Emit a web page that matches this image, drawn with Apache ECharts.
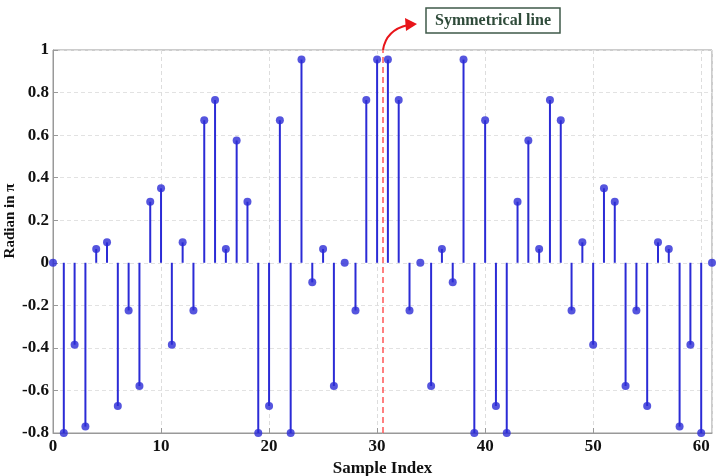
<!DOCTYPE html>
<html>
<head>
<meta charset="utf-8">
<script src="https://cdn.jsdelivr.net/npm/echarts@6/dist/echarts.min.js"></script>
<style>
  html, body { margin: 0; padding: 0; background: #fff; }
  #main { width: 718px; height: 476px; }
</style>
</head>
<body>
<div id="main"></div>
<script>
// sample index 0..61 and the phase values (radian in pi)
var sampleIndex = [];
for (var i = 0; i <= 61; i++) sampleIndex.push(i);

var radianValues = [
  0, -0.8, -0.385, -0.77, 0.065, 0.096, -0.673, -0.224, -0.579, 0.287,
  0.35, -0.385, 0.096, -0.224, 0.67, 0.765, 0.065, 0.575, 0.287, -0.8,
  -0.673, 0.67, -0.8, 0.955, -0.092, 0.065, -0.579, 0, -0.224, 0.765,
  0.955, 0.955, 0.765, -0.224, 0, -0.579, 0.065, -0.092, 0.955, -0.8,
  0.67, -0.673, -0.8, 0.287, 0.575, 0.065, 0.765, 0.67, -0.224, 0.096,
  -0.385, 0.35, 0.287, -0.579, -0.224, -0.673, 0.096, 0.065, -0.77, -0.385,
  -0.8, 0
];

var symmetryAt = 30.5;

var stemColor = '#2b2bd6';
var tickFont = { fontFamily: 'Liberation Serif', fontWeight: 'bold', fontSize: 17, color: '#111' };
var nameFont = { fontFamily: 'Liberation Serif', fontWeight: 'bold', fontSize: 17, color: '#111' };

var points = sampleIndex.map(function (x, k) { return [x, radianValues[k]]; });

var chart = echarts.init(document.getElementById('main'));
chart.setOption({
  animation: false,
  grid: {
    left: 53, right: 6, top: 50, bottom: 43,
    outerBoundsMode: 'none', containLabel: false,
    show: true, borderColor: '#999', borderWidth: 1, backgroundColor: '#fff'
  },
  xAxis: {
    type: 'value', min: 0, max: 61, interval: 10,
    name: 'Sample Index', nameLocation: 'middle', nameGap: 22,
    nameTextStyle: nameFont,
    axisLine: { show: true, onZero: false, lineStyle: { color: '#999' } },
    axisTick: { inside: true, length: 5, lineStyle: { color: '#999' } },
    axisLabel: Object.assign({ margin: 5, showMaxLabel: false }, tickFont),
    splitLine: { show: true, lineStyle: { color: '#ddd', type: [4, 3] } }
  },
  yAxis: {
    type: 'value', min: -0.8, max: 1, interval: 0.2,
    axisLine: { show: true, lineStyle: { color: '#999' } },
    axisTick: { inside: true, length: 5, lineStyle: { color: '#999' } },
    axisLabel: Object.assign({
      margin: 4,
      formatter: function (v) { return String(Math.round(v * 10) / 10); }
    }, tickFont),
    splitLine: { show: true, lineStyle: { color: '#e2e2e2', type: [4, 3] } }
  },
  series: [
    {
      type: 'custom',
      data: points,
      renderItem: function (params, api) {
        var p0 = api.coord([api.value(0), 0]);
        var p1 = api.coord([api.value(0), api.value(1)]);
        return {
          type: 'line',
          shape: { x1: p0[0], y1: p0[1], x2: p1[0], y2: p1[1] },
          style: { stroke: stemColor, lineWidth: 2 }
        };
      },
      z: 2
    },
    {
      type: 'scatter',
      data: points,
      symbol: 'circle',
      symbolSize: 8,
      itemStyle: { color: stemColor },
      z: 3,
      markLine: {
        silent: true,
        symbol: 'none',
        label: { show: false },
        lineStyle: { color: '#ff5555', type: [6, 4], width: 1.5 },
        data: [{ xAxis: symmetryAt }]
      }
    }
  ],
  graphic: [
    {
      // y axis title, sits a bit above the middle as in the figure
      type: 'text',
      x: 10, y: 221, rotation: Math.PI / 2,
      style: {
        text: 'Radian in π',
        fontFamily: 'Liberation Serif', fontWeight: 'bold', fontSize: 15,
        fill: '#111', align: 'center', verticalAlign: 'middle'
      }
    },
    {
      type: 'bezierCurve',
      shape: { x1: 383, y1: 50, cpx1: 386, cpy1: 30, x2: 408, y2: 25 },
      style: { stroke: '#e8151a', lineWidth: 2, fill: null }
    },
    {
      type: 'polygon',
      shape: { points: [[417, 24], [405, 18], [406, 31]] },
      style: { fill: '#e8151a' }
    },
    {
      type: 'rect',
      shape: { x: 426, y: 8, width: 134, height: 25 },
      style: { fill: '#fff', stroke: '#3f5a4a', lineWidth: 1.5 }
    },
    {
      type: 'text',
      x: 493, y: 21,
      style: {
        text: 'Symmetrical line',
        fontFamily: 'Liberation Serif', fontWeight: 'bold', fontSize: 16,
        fill: '#2f4b3a', align: 'center', verticalAlign: 'middle'
      }
    }
  ]
});
</script>
</body>
</html>
